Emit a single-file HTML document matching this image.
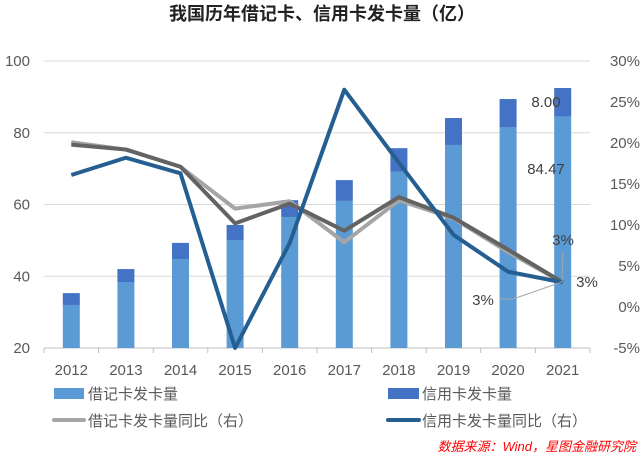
<!DOCTYPE html>
<html><head><meta charset="utf-8"><style>
body{margin:0;background:#fff}
svg text{font-family:"Liberation Sans","Noto Sans CJK SC",sans-serif}
</style></head><body>
<svg id="chart" width="643" height="457" viewBox="0 0 643 457" xmlns="http://www.w3.org/2000/svg">
<rect width="643" height="457" fill="#fff"/>
<text x="322" y="20" text-anchor="middle" font-size="18" font-weight="bold" fill="#222">我国历年借记卡、信用卡发卡量（亿）</text>
<g id="grid"></g><g id="bars"></g><g id="lines"></g><g id="axes"></g>
<g font-size="15" fill="#404040">
<text x="546" y="107" text-anchor="middle">8.00</text>
<text x="546" y="174" text-anchor="middle">84.47</text>
<text x="563" y="245" text-anchor="middle">3%</text>
<text x="587" y="287" text-anchor="middle">3%</text>
<text x="483" y="305" text-anchor="middle">3%</text>
<polyline points="500,299 513,299 562,282" fill="none" stroke="#a6a6a6" stroke-width="1"/>
<polyline points="563,252 562,282" fill="none" stroke="#a6a6a6" stroke-width="1"/>
</g>
<g font-size="15" fill="#595959">
<rect x="54" y="388" width="30" height="11" fill="#5b9bd5"/>
<text x="88" y="399">借记卡发卡量</text>
<rect x="388" y="388" width="31" height="11" fill="#4472c4"/>
<text x="422" y="399">信用卡发卡量</text>
<line x1="54" y1="420" x2="84" y2="420" stroke="#a5a5a5" stroke-width="4" stroke-linecap="round"/>
<text x="88" y="426">借记卡发卡量同比（右）</text>
<line x1="388" y1="420" x2="419" y2="420" stroke="#255e91" stroke-width="4" stroke-linecap="round"/>
<text x="422" y="426">信用卡发卡量同比（右）</text>
</g>
<text x="636" y="451" text-anchor="end" font-size="13" font-style="italic" fill="#ff0000">数据来源：Wind，星图金融研究院</text>
</svg>
<script>
const years=["2012","2013","2014","2015","2016","2017","2018","2019","2020","2021"];
const debit=[32.0,38.4,44.8,50.1,56.5,61.0,69.1,76.6,81.6,84.47];
const credit=[3.3,3.6,4.5,4.2,4.7,5.8,6.6,7.5,7.8,8.00];
const debitYoY=[20.1,19.2,17.1,12.0,12.9,7.9,13.0,10.8,6.7,3.0];
const creditYoY=[16.1,18.2,16.3,-5.0,7.8,26.5,17.6,8.8,4.3,3.0];
const totalYoY=[19.8,19.2,17.1,10.2,12.6,9.3,13.4,10.9,7.0,3.0];
const leftTicks=[20,40,60,80,100];
const rightTicks=[-5,0,5,10,15,20,25,30];
const NS="http://www.w3.org/2000/svg";
const X0=44,X1=590,Y0=348,Y1=61;
const bw=(X1-X0)/years.length;
const xc=i=>X0+bw*(i+0.5);
const yL=v=>Y0-(v-20)/80*(Y0-Y1);
const yR=v=>Y0-(v+5)/35*(Y0-Y1);
function mk(tag,attrs,parent){const e=document.createElementNS(NS,tag);for(const k in attrs)e.setAttribute(k,attrs[k]);document.getElementById(parent).appendChild(e);return e;}
leftTicks.forEach(t=>{
  const g=mk("line",{x1:X0,x2:X1,y1:yL(t),y2:yL(t),stroke:t===20?"#bfbfbf":"#d9d9d9","stroke-width":1},"grid");
  
  
  const l=mk("text",{x:30,y:yL(t)+5,"text-anchor":"end","font-size":15,fill:"#595959"},"axes");
  l.textContent=t;
  
  
});
rightTicks.forEach(t=>{
  const l=mk("text",{x:640,y:yR(t)+5,"text-anchor":"end","font-size":15,fill:"#595959"},"axes");
  l.textContent=t+"%";
  
  
});
years.forEach((y,i)=>{
  const tk=mk("line",{x1:X0+bw*i,x2:X0+bw*i,y1:Y0,y2:Y0+5,stroke:"#bfbfbf"},"axes");
  
  
  const l=mk("text",{x:xc(i),y:375,"text-anchor":"middle","font-size":15,fill:"#595959"},"axes");
  l.textContent=y;
  
  
  const b1=mk("rect",{x:xc(i)-8.5,width:17,y:yL(debit[i]),height:Y0-yL(debit[i]),fill:"#5b9bd5"},"bars");
  
  
  const b2=mk("rect",{x:xc(i)-8.5,width:17,y:yL(debit[i]+credit[i]),height:yL(debit[i])-yL(debit[i]+credit[i]),fill:"#4472c4"},"bars");
  
  
});
const tk=mk("line",{x1:X1,x2:X1,y1:Y0,y2:Y0+5,stroke:"#bfbfbf"},"axes");


function line(arr,color,name){
  const p=mk("polyline",{points:arr.map((v,i)=>xc(i)+","+yR(v)).join(" "),fill:"none",stroke:color,"stroke-width":4,"stroke-linejoin":"round"},"lines");
  
  
}
line(debitYoY,"#a5a5a5","line-debit-yoy");
line(totalYoY,"#636363","line-total-yoy");
line(creditYoY,"#255e91","line-credit-yoy");
</script>
</body></html>
